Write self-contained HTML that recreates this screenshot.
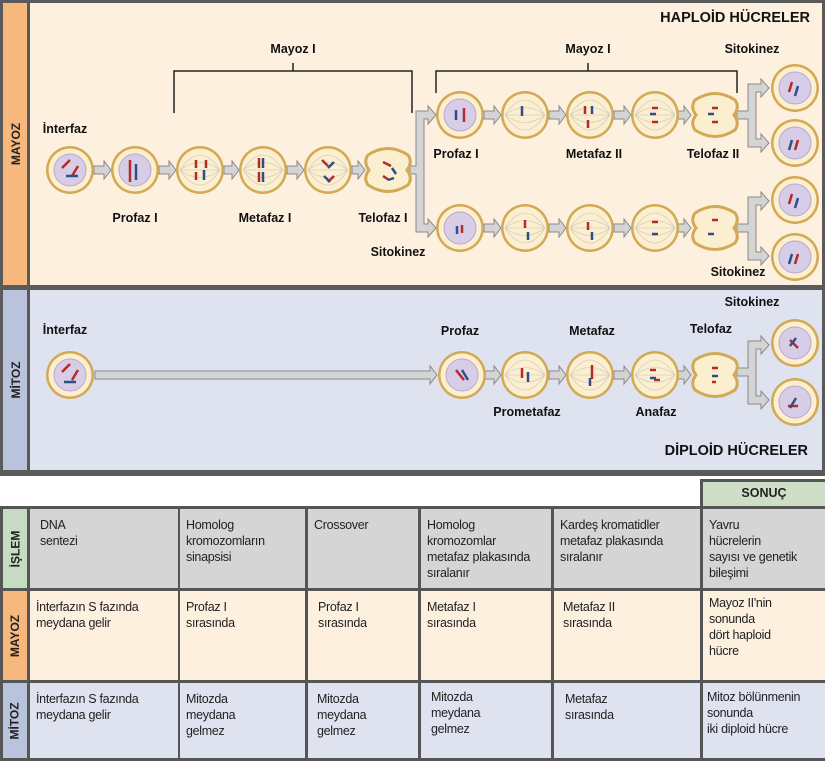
<!DOCTYPE html>
<html><head><meta charset="utf-8">
<style>
body{margin:0;width:825px;height:761px;background:#fff;position:relative;overflow:hidden;font-family:"Liberation Sans",sans-serif}
svg{position:absolute;left:0;top:0}
.c{position:absolute;box-sizing:border-box;padding:8px 6px;font-family:"Liberation Sans",sans-serif;font-size:12.5px;line-height:16px;color:#222;letter-spacing:-0.3px}
.l{position:absolute;display:flex;align-items:center;justify-content:center}
.l span{transform:rotate(-90deg);font-weight:bold;font-size:12px;white-space:nowrap;color:#222}
</style></head><body>
<svg width="825" height="480" viewBox="0 0 825 480">
<defs>
<g id="cell"><circle r="24" fill="#d2a955"/><circle r="21.5" fill="#fbefd0"/><circle r="16" fill="#d8cde6" stroke="#b9a6cf"/></g>
<g id="sp"><circle r="24" fill="#d2a955"/><circle r="21.5" fill="#fbefd0"/><path d="M-20 0 Q0 -30 20 0 M-20 0 Q0 30 20 0 M-20 0 Q0 -15 20 0 M-20 0 Q0 15 20 0 M-20 0 H20" stroke="#d6cfc0" fill="none" stroke-width=".8"/></g>
<g id="pin"><path d="M-20 -15 Q0 -28 20 -15 Q25 -8 19 0 Q25 8 20 15 Q0 28 -20 15 Q-25 8 -19 0 Q-25 -8 -20 -15Z" fill="#fbefd0" stroke="#d2a955" stroke-width="3"/></g>
</defs>
<rect width="825" height="476" fill="#5a5a5a"/>
<rect x="3" y="3" width="24" height="282" fill="#f6b87c"/>
<rect x="30" y="3" width="792" height="282" fill="#fdf0df"/>
<rect x="3" y="290" width="24" height="180" fill="#b9c3db"/>
<rect x="30" y="290" width="792" height="180" fill="#dfe3ef"/>
<text transform="translate(20,144) rotate(-90)" text-anchor="middle" font-weight="bold" font-size="12" fill="#222">MAYOZ</text>
<text transform="translate(20,380) rotate(-90)" text-anchor="middle" font-weight="bold" font-size="12" fill="#222">MİTOZ</text>
<g font-weight="bold" font-size="12.5" fill="#111" text-anchor="middle">
<text x="810" y="22" font-size="14.5" text-anchor="end">HAPLOİD HÜCRELER</text>
<text x="808" y="455" font-size="14.5" text-anchor="end">DİPLOİD HÜCRELER</text>
<text x="293" y="53">Mayoz I</text>
<text x="588" y="53">Mayoz I</text>
<text x="752" y="53">Sitokinez</text>
<text x="65" y="133">İnterfaz</text>
<text x="135" y="222">Profaz I</text>
<text x="265" y="222">Metafaz I</text>
<text x="383" y="222">Telofaz I</text>
<text x="398" y="256">Sitokinez</text>
<text x="456" y="158">Profaz I</text>
<text x="594" y="158">Metafaz II</text>
<text x="713" y="158">Telofaz II</text>
<text x="738" y="276">Sitokinez</text>
<text x="65" y="334">İnterfaz</text>
<text x="460" y="335">Profaz</text>
<text x="592" y="335">Metafaz</text>
<text x="711" y="333">Telofaz</text>
<text x="752" y="306">Sitokinez</text>
<text x="527" y="416">Prometafaz</text>
<text x="656" y="416">Anafaz</text>
</g>
<g stroke="#222" stroke-width="1.5" fill="none">
<path d="M174 113 V71 H412 V113 M293 71 V63"/>
<path d="M436 93 V71 H737 V93 M588 71 V63"/>
</g>
<g fill="#d4d4d4" stroke="#8a8a8a" stroke-width="1">
<path d="M94 166 H104 V161 L111 170 L104 179 V174 H94Z"/>
<path d="M159 166 H169 V161 L176 170 L169 179 V174 H159Z"/>
<path d="M224 166 H232 V161 L239 170 L232 179 V174 H224Z"/>
<path d="M287 166 H297 V161 L304 170 L297 179 V174 H287Z"/>
<path d="M352 166 H358 V161 L365 170 L358 179 V174 H352Z"/>
<path d="M410 166 H416 V111 H428 V106 L436 115 L428 124 V119 H424 V224 H428 V219 L436 228 L428 237 V232 H416 V174 H410Z"/>
<path d="M95 371 H430 V366 L437 375 L430 384 V379 H95Z"/>
</g>
<g fill="#d4d4d4" stroke="#8a8a8a">
<path id="ar" d="M484 111 H494 V106 L501 115 L494 124 V119 H484Z"/>
<use href="#ar" x="65"/><use href="#ar" x="130"/><use href="#ar" x="190"/>
<use href="#ar" y="113"/><use href="#ar" x="65" y="113"/><use href="#ar" x="130" y="113"/><use href="#ar" x="190" y="113"/>
<use href="#ar" y="260"/><use href="#ar" x="65" y="260"/><use href="#ar" x="130" y="260"/><use href="#ar" x="190" y="260"/>
<path id="br" d="M737 111 H748 V84 H761 V79 L769 88 L761 97 V92 H756 V139 H761 V134 L769 143 L761 152 V147 H748 V119 H737Z"/>
<use href="#br" y="113"/>
<use href="#br" y="257"/>
</g>
<use href="#cell" x="70" y="170"/>
<use href="#cell" x="135" y="170"/>
<use href="#sp" x="200" y="170"/>
<use href="#sp" x="263" y="170"/>
<use href="#sp" x="328" y="170"/>
<use href="#pin" x="388" y="170"/>
<g>
<use href="#cell" x="460" y="115"/><use href="#sp" x="525" y="115"/><use href="#sp" x="590" y="115"/><use href="#sp" x="655" y="115"/><use href="#pin" x="715" y="115"/>
<use href="#cell" x="460" y="228"/><use href="#sp" x="525" y="228"/><use href="#sp" x="590" y="228"/><use href="#sp" x="655" y="228"/><use href="#pin" x="715" y="228"/>
<use href="#cell" x="795" y="88"/><use href="#cell" x="795" y="143"/><use href="#cell" x="795" y="200"/><use href="#cell" x="795" y="257"/>
<use href="#cell" x="70" y="375"/>
<use href="#cell" x="462" y="375"/><use href="#sp" x="525" y="375"/><use href="#sp" x="590" y="375"/><use href="#sp" x="655" y="375"/><use href="#pin" x="715" y="375"/>
<use href="#cell" x="795" y="343"/><use href="#cell" x="795" y="402"/>
</g>
<g fill="none" stroke-width="2.5">
<g stroke="#b52a2a">
<path d="M62 168 l8 -8 M72 176 l6 -10 M130 160 v22 M196 160 v8 M206 160 v8 M196 172 v8 M259 158 v10 M259 172 v10 M322 160 l6 6 M334 176 l-6 6 M383 162 l8 4 M383 176 l6 4"/>
<path d="M464 108 v14 M585 106 v8 M588 120 v8 M652 108 l6 0 M652 122 l6 0 M712 108 l6 0 M712 122 l6 0 M792 82 l-3 10 M798 140 l-3 10"/>
<path d="M462 225 v8 M525 220 v8 M588 222 v8 M652 222 l6 0 M712 220 l6 0 M792 194 l-3 10 M798 254 l-3 10"/>
<path d="M62 372 l8 -8 M72 380 l6 -10 M456 370 l8 10 M522 368 v10 M592 365 v14 M650 370 l6 0 M660 380 l-6 0 M712 368 l6 0 M712 382 l4 0 M790 340 l8 8 M788 406 l10 0"/>
</g>
<g stroke="#2f4f86">
<path d="M66 176 h12 M136 164 v16 M204 170 v10 M263 158 v10 M263 172 v10 M334 162 l-6 6 M324 176 l6 6 M392 168 l4 6 M394 178 l-6 2"/>
<path d="M456 110 v10 M522 106 v10 M592 106 v8 M650 114 l6 0 M714 114 l-6 0 M798 86 l-3 10 M792 140 l-3 10"/>
<path d="M457 226 v8 M528 232 v8 M592 232 v8 M652 234 l6 0 M714 234 l-6 0 M798 198 l-3 10 M792 254 l-3 10"/>
<path d="M64 382 h12 M462 370 l6 10 M528 372 v10 M590 378 v8 M650 378 l6 0 M718 376 l-6 0 M796 338 l-6 8 M796 398 l-6 10"/>
</g>
</g>
</svg>

<div style="position:absolute;left:700px;top:479px;width:125px;height:30px;background:#555"></div>
<div style="position:absolute;left:703px;top:482px;width:122px;height:24px;background:#cfdfc7;font-weight:bold;font-size:12.5px;text-align:center;line-height:22px;color:#222">SONUÇ</div>
<div style="position:absolute;left:0;top:506px;width:825px;height:255px;background:#555"></div>

<div class="l" style="left:3px;top:509px;width:24px;height:79px;background:#c6dcc2"><span>İŞLEM</span></div>
<div class="l" style="left:3px;top:591px;width:24px;height:89px;background:#f6b87c"><span>MAYOZ</span></div>
<div class="l" style="left:3px;top:683px;width:24px;height:75px;background:#b9c3db"><span>MİTOZ</span></div>

<div class="c" style="left:30px;top:509px;width:148px;height:79px;background:#d5d5d5;padding-left:10px">DNA<br>sentezi</div>
<div class="c" style="left:180px;top:509px;width:125px;height:79px;background:#d5d5d5">Homolog<br>kromozomların<br>sinapsisi</div>
<div class="c" style="left:308px;top:509px;width:110px;height:79px;background:#d5d5d5">Crossover</div>
<div class="c" style="left:421px;top:509px;width:130px;height:79px;background:#d5d5d5">Homolog<br>kromozomlar<br>metafaz plakasında<br>sıralanır</div>
<div class="c" style="left:554px;top:509px;width:146px;height:79px;background:#d5d5d5">Kardeş kromatidler<br>metafaz plakasında<br>sıralanır</div>
<div class="c" style="left:703px;top:509px;width:122px;height:79px;background:#d5d5d5">Yavru<br>hücrelerin<br>sayısı ve genetik<br>bileşimi</div>

<div class="c" style="left:30px;top:591px;width:148px;height:89px;background:#fdf0df">İnterfazın S fazında<br>meydana gelir</div>
<div class="c" style="left:180px;top:591px;width:125px;height:89px;background:#fdf0df">Profaz I<br>sırasında</div>
<div class="c" style="left:308px;top:591px;width:110px;height:89px;background:#fdf0df;padding-left:10px">Profaz I<br>sırasında</div>
<div class="c" style="left:421px;top:591px;width:130px;height:89px;background:#fdf0df">Metafaz I<br>sırasında</div>
<div class="c" style="left:554px;top:591px;width:146px;height:89px;background:#fdf0df;padding-left:9px">Metafaz II<br>sırasında</div>
<div class="c" style="left:703px;top:591px;width:122px;height:89px;background:#fdf0df;padding-top:4px">Mayoz II'nin<br>sonunda<br>dört haploid<br>hücre</div>

<div class="c" style="left:30px;top:683px;width:148px;height:75px;background:#dfe3ef">İnterfazın S fazında<br>meydana gelir</div>
<div class="c" style="left:180px;top:683px;width:125px;height:75px;background:#dfe3ef">Mitozda<br>meydana<br>gelmez</div>
<div class="c" style="left:308px;top:683px;width:110px;height:75px;background:#dfe3ef;padding-left:9px">Mitozda<br>meydana<br>gelmez</div>
<div class="c" style="left:421px;top:683px;width:130px;height:75px;background:#dfe3ef;padding-left:10px;padding-top:6px">Mitozda<br>meydana<br>gelmez</div>
<div class="c" style="left:554px;top:683px;width:146px;height:75px;background:#dfe3ef;padding-left:11px">Metafaz<br>sırasında</div>
<div class="c" style="left:703px;top:683px;width:122px;height:75px;background:#dfe3ef;padding-left:4px;padding-top:6px">Mitoz bölünmenin<br>sonunda<br>iki diploid hücre</div>
</body></html>
